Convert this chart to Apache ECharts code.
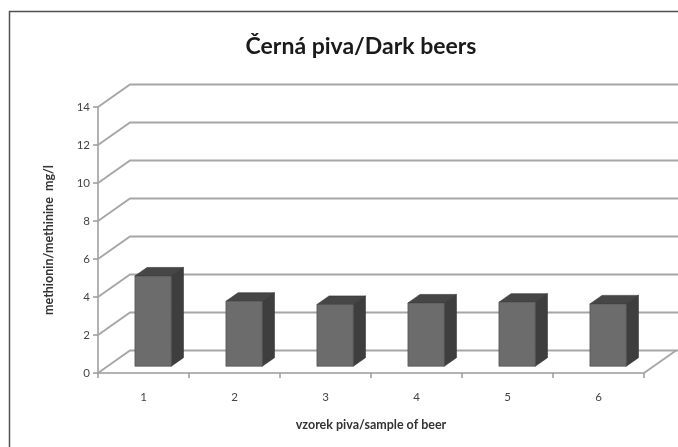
<!DOCTYPE html>
<html>
<head>
<meta charset="utf-8">
<script src="https://cdn.jsdelivr.net/npm/echarts@6/dist/echarts.min.js"></script>
<style>
html,body{margin:0;padding:0;background:#fff;}
#chart{width:678px;height:447px;}
</style>
</head>
<body>
<div id="chart"></div>
<script>
// ---- data ----
const categories = ['1', '2', '3', '4', '5', '6'];
const methionine = [4.75, 3.42, 3.25, 3.33, 3.37, 3.28];
const yTicks = [0, 2, 4, 6, 8, 10, 12, 14];
const titleText = 'Černá piva/Dark beers';
const xTitle = 'vzorek piva/sample of beer';
const yTitle = 'methionin/methinine  mg/l';

// ---- 3D look (pixel offsets for the depth direction) ----
const DX = 32, DY = -22.5;
const F0 = 0.3, F1 = 0.68, BARW = 0.4;
const FONT = 'Lato';

const chart = echarts.init(document.getElementById('chart'));

function wallItem(params, api) {
  const v = api.value(1);
  const p = api.coord([0, v]);
  const cs = params.coordSys;
  const x0 = cs.x, x1 = cs.x + cs.width, y = p[1];
  const style = { stroke: '#a6a6a6', lineWidth: 1.9, fill: null };
  const children = [{
    type: 'polyline',
    shape: { points: [[x0, y], [x0 + DX, y + DY], [x1 + DX + 4, y + DY]] },
    style: style
  }];
  if (v === 0) {
    children.push({
      type: 'line',
      shape: { x1: x1, y1: y, x2: x1 + DX, y2: y + DY },
      style: style
    });
  }
  return { type: 'group', children: children };
}

function barItem(params, api) {
  const idx = api.value(0);
  const v = api.value(1);
  const top = api.coord([idx, v]);
  const base = api.coord([idx, 0]);
  const band = api.size([1, 0])[0];
  const w = band * BARW;
  const ox = DX * F0, oy = DY * F0;
  const dx = DX * (F1 - F0), dy = DY * (F1 - F0);
  const xl = top[0] - w / 2 + ox, xr = xl + w;
  const yt = top[1] + oy, yb = base[1] + oy;
  return {
    type: 'group',
    children: [
      { type: 'polygon', shape: { points: [[xr, yt], [xr + dx, yt + dy], [xr + dx, yb + dy], [xr, yb]] },
        style: { fill: '#3e3e3e', stroke: '#333', lineWidth: 0.6 } },
      { type: 'polygon', shape: { points: [[xl, yt], [xl + dx, yt + dy], [xr + dx, yt + dy], [xr, yt]] },
        style: { fill: '#464646', stroke: '#333', lineWidth: 0.6 } },
      { type: 'rect', shape: { x: xl, y: yt, width: w, height: yb - yt },
        style: { fill: '#6c6c6c', stroke: '#484848', lineWidth: 0.6 } }
    ]
  };
}

const option = {
  animation: false,
  backgroundColor: '#ffffff',
  title: {
    text: titleText,
    left: 356, top: 30, textAlign: 'center',
    textStyle: { fontFamily: FONT, fontWeight: 'bold', fontSize: 23, color: '#1a1a1a' }
  },
  graphic: [{
    type: 'rect', shape: { x: 9.5, y: 11.5, width: 1000, height: 1000 },
    style: { fill: null, stroke: '#505050', lineWidth: 1.5 }, silent: true
  }],
  grid: { left: 98, right: 34, top: 107, bottom: 74, containLabel: false },
  xAxis: {
    type: 'category',
    data: categories,
    name: xTitle,
    nameLocation: 'middle',
    nameGap: 45,
    nameTextStyle: { fontFamily: FONT, fontWeight: 'bold', fontSize: 12.5, color: '#333' },
    axisLine: { show: true, lineStyle: { color: '#9a9a9a', width: 1.5 } },
    axisTick: { show: true, length: 5, lineStyle: { color: '#9a9a9a', width: 1.5 } },
    axisLabel: { margin: 18, fontFamily: FONT, fontSize: 11.5, color: '#444' },
    splitLine: { show: false }
  },
  yAxis: {
    type: 'value',
    min: 0, max: 14, interval: 2,
    name: yTitle,
    nameLocation: 'middle',
    nameRotate: 90,
    nameGap: 43,
    nameTextStyle: { fontFamily: FONT, fontWeight: 'bold', fontSize: 12.5, color: '#333' },
    axisLine: { show: true, lineStyle: { color: '#9a9a9a', width: 1.5 } },
    axisTick: { show: true, length: 5, lineStyle: { color: '#9a9a9a', width: 1.5 } },
    axisLabel: { margin: 8, fontFamily: FONT, fontSize: 11.5, color: '#444' },
    splitLine: { show: false }
  },
  series: [
    {
      type: 'custom',
      renderItem: wallItem,
      data: yTicks.map(v => [0, v]),
      z: 1,
      silent: true
    },
    {
      type: 'custom',
      renderItem: barItem,
      data: methionine.map((v, i) => [i, v]),
      z: 3,
      silent: true
    }
  ]
};
chart.setOption(option);
</script>
</body>
</html>
